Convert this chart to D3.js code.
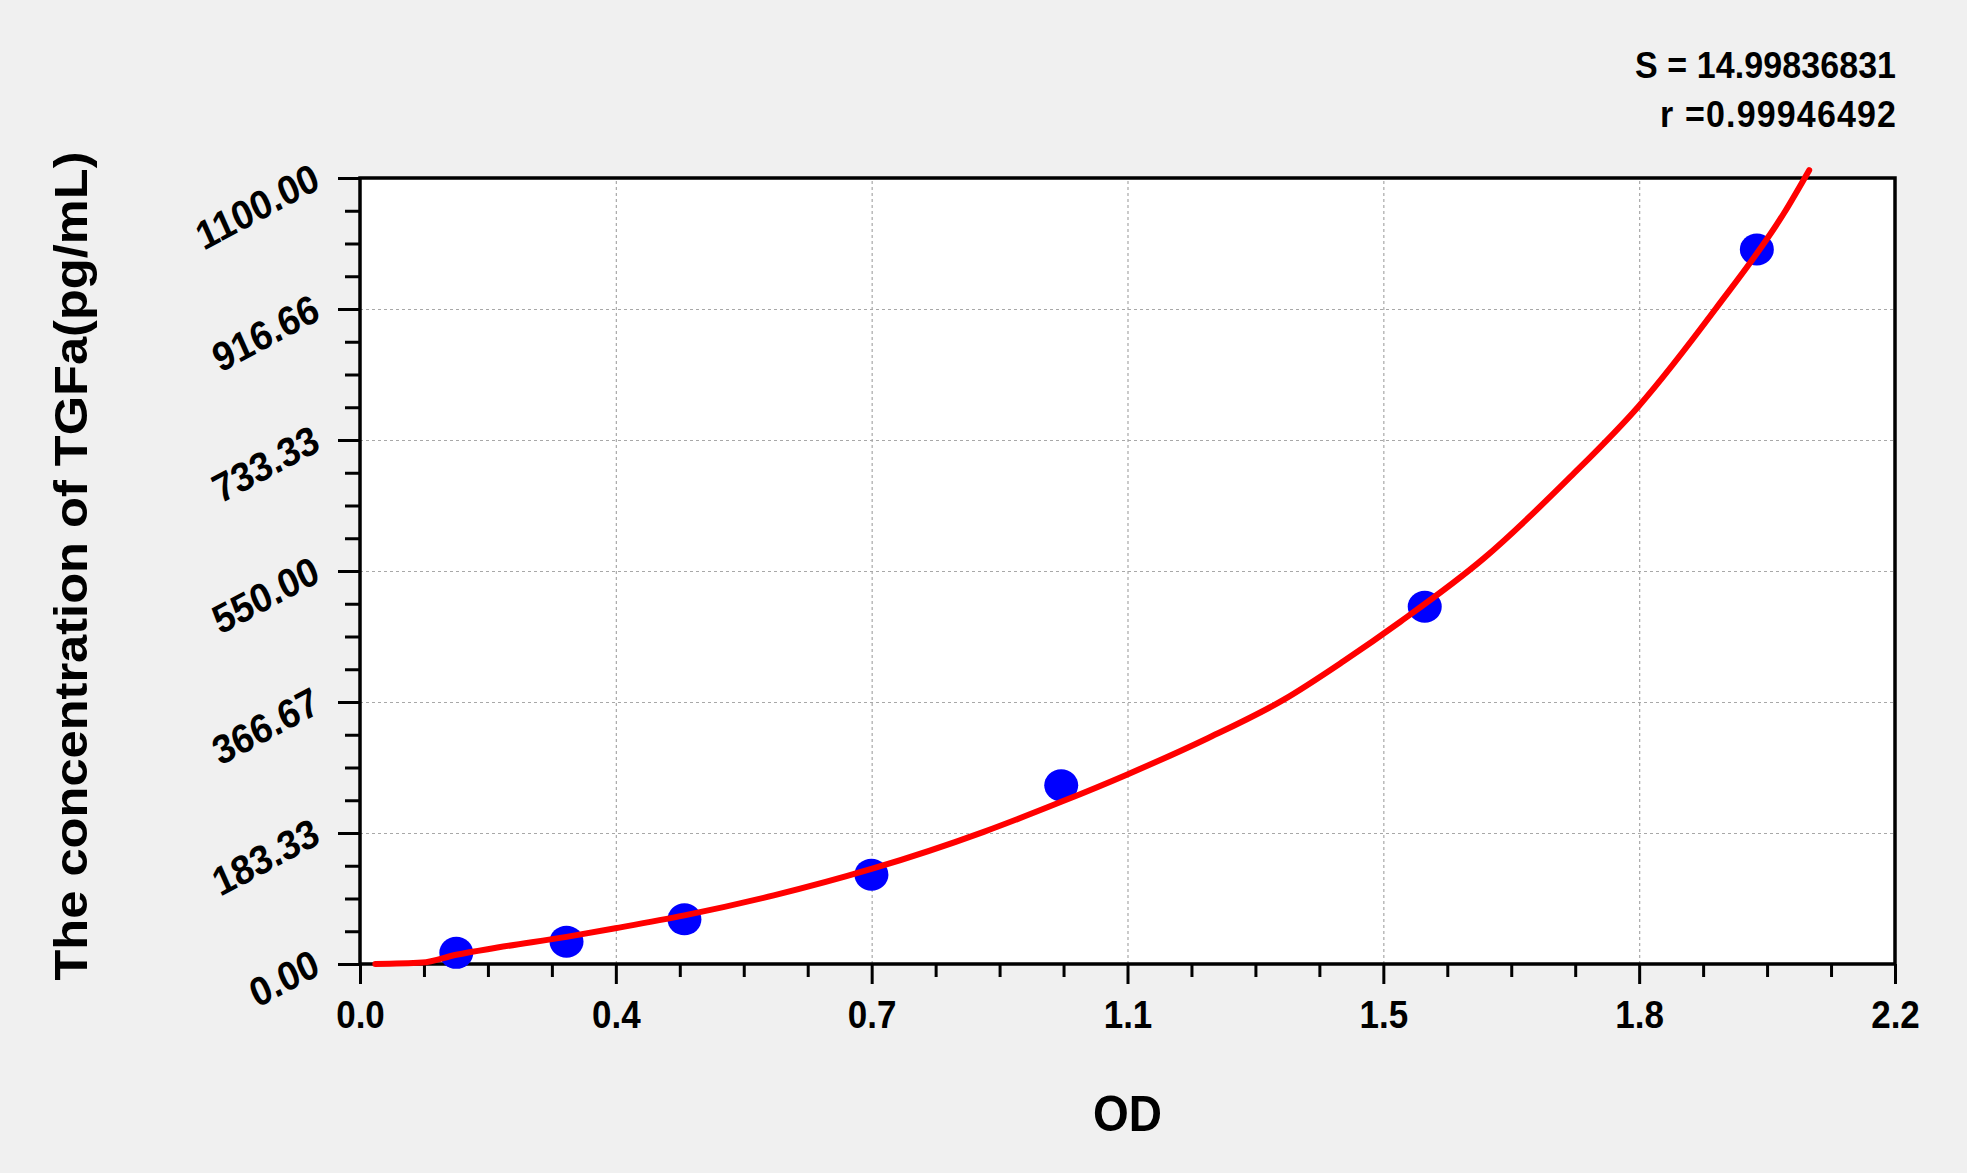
<!DOCTYPE html>
<html>
<head>
<meta charset="utf-8">
<script src="https://cdn.jsdelivr.net/npm/d3@7"></script>
<style>
  html, body { margin: 0; padding: 0; background: #f0f0f0; }
  svg { display: block; }
  text { font-family: Arial, "Liberation Sans", sans-serif; font-weight: bold; fill: #000; }
</style>
</head>
<body>
<div class="chart"></div>
<script>
// standards: OD vs concentration
var od_values   = [0.138, 0.296, 0.465, 0.733, 1.005, 1.526, 2.002];
var conc_values = [15.6, 31.25, 62.5, 125, 250, 500, 1000];

// fitted curve
var curve_od   = [0.022, 0.089, 0.138, 0.197, 0.296, 0.366, 0.465, 0.593, 0.733, 0.894,
                  1.005, 1.099, 1.215, 1.324, 1.41, 1.491, 1.611, 1.735, 1.832, 1.943,
                  2.041, 2.077];
var curve_conc = [0, 2, 13, 23, 38, 50, 68, 96, 133, 185,
                  227, 265, 316, 370, 424, 479, 568, 682, 780, 917,
                  1051, 1111];

var x_tick_values = [0, 0.36667, 0.73333, 1.1, 1.46667, 1.83333, 2.2];
var x_tick_labels = ["0.0", "0.4", "0.7", "1.1", "1.5", "1.8", "2.2"];
var y_tick_values = [0, 183.33, 366.67, 550, 733.33, 916.66, 1100];
var y_tick_labels = ["0.00", "183.33", "366.67", "550.00", "733.33", "916.66", "1100.00"];

var stats_labels = ["S = 14.99836831", "r =0.99946492"];
var stats_widths = [261, 236];
var x_title = "OD";
var y_title = "The concentration of TGFa(pg/mL)";

var width = 1967, height = 1173;
var margin = {top: 178, right: 72, bottom: 209, left: 360};
var inner_width = width - margin.left - margin.right;
var inner_height = height - margin.top - margin.bottom;
var stretch = "scale(1,1.1)";

var svg = d3.select(".chart").append("svg")
  .attr("width", width)
  .attr("height", height)
  .style("background-color", "#f0f0f0");

var g = svg.append("g")
  .attr("transform", "translate(" + margin.left + "," + margin.top + ")");

var x_scale = d3.scaleLinear().domain([0, 2.2]).range([0, inner_width]);
var y_scale = d3.scaleLinear().domain([0, 1100]).range([inner_height, 0]);

// minor ticks: 3 between each pair of majors
function minors(vals) {
  var out = [];
  for (var i = 0; i < vals.length - 1; i++) {
    for (var k = 1; k < 4; k++) out.push(vals[i] + (vals[i + 1] - vals[i]) * k / 4);
  }
  return out;
}

g.append("rect")
  .attr("width", inner_width)
  .attr("height", inner_height)
  .attr("fill", "#ffffff");

// grid
g.append("g")
  .attr("class", "grid")
  .attr("transform", "translate(0," + inner_height + ")")
  .call(d3.axisBottom(x_scale).tickValues(x_tick_values.slice(1, -1))
    .tickSize(-inner_height).tickFormat(""));
g.append("g")
  .attr("class", "grid")
  .call(d3.axisLeft(y_scale).tickValues(y_tick_values.slice(1, -1))
    .tickSize(-inner_width).tickFormat(""));
g.selectAll(".grid path").remove();
g.selectAll(".grid line")
  .attr("stroke", "#a8a8a8")
  .attr("stroke-width", 1.2)
  .attr("stroke-dasharray", "3,3");

// axes
var x_axis = g.append("g")
  .attr("class", "x_axis")
  .attr("transform", "translate(0," + inner_height + ")")
  .call(d3.axisBottom(x_scale).tickValues(x_tick_values).tickSizeInner(20).tickSizeOuter(0)
    .tickFormat(function (d, i) { return x_tick_labels[i]; }));
x_axis.selectAll("text")
  .attr("y", null).attr("dy", null)
  .attr("transform", "translate(0,64) " + stretch)
  .attr("text-anchor", "middle")
  .style("font-size", "35px");

var x_minor = g.append("g")
  .attr("transform", "translate(0," + inner_height + ")")
  .call(d3.axisBottom(x_scale).tickValues(minors(x_tick_values)).tickSizeInner(13).tickSizeOuter(0)
    .tickFormat(""));

var y_axis = g.append("g")
  .attr("class", "y_axis")
  .call(d3.axisLeft(y_scale).tickValues(y_tick_values).tickSizeInner(22).tickSizeOuter(0)
    .tickFormat(function (d, i) { return y_tick_labels[i]; }));
y_axis.selectAll("text")
  .attr("x", null).attr("dy", null)
  .attr("transform", "translate(-38,9) " + stretch + " rotate(-26)")
  .attr("text-anchor", "end")
  .style("font-size", "37px");

var y_minor = g.append("g")
  .call(d3.axisLeft(y_scale).tickValues(minors(y_tick_values)).tickSizeInner(15).tickSizeOuter(0)
    .tickFormat(""));

g.selectAll(".x_axis path, .y_axis path").remove();
x_minor.select("path").remove();
y_minor.select("path").remove();
g.selectAll(".tick line")
  .filter(function () { return !this.closest(".grid"); })
  .attr("stroke", "#000")
  .attr("stroke-width", 3);

// frame
g.append("rect")
  .attr("width", inner_width)
  .attr("height", inner_height)
  .attr("fill", "none")
  .attr("stroke", "#000")
  .attr("stroke-width", 3.5);

// points
var points = od_values.map(function (d, i) { return {od: d, conc: conc_values[i]}; });
g.selectAll("ellipse")
  .data(points)
  .enter()
  .append("ellipse")
    .attr("cx", function (d) { return x_scale(d.od); })
    .attr("cy", function (d) { return y_scale(d.conc); })
    .attr("rx", 17)
    .attr("ry", 16)
    .attr("fill", "#0000ff");

// fitted curve
var curve = curve_od.map(function (d, i) { return [d, curve_conc[i]]; });
var line = d3.line()
  .x(function (d) { return x_scale(d[0]); })
  .y(function (d) { return y_scale(d[1]); })
  .curve(d3.curveMonotoneX);
g.append("path")
  .datum(curve)
  .attr("d", line)
  .attr("fill", "none")
  .attr("stroke", "#ff0000")
  .attr("stroke-width", 6)
  .attr("stroke-linecap", "round");

// titles
svg.append("text")
  .attr("transform", "translate(" + (margin.left + inner_width / 2) + ",1131) " + stretch)
  .attr("text-anchor", "middle")
  .style("font-size", "46px")
  .text(x_title);

svg.append("text")
  .attr("transform", "translate(87,566) " + stretch + " rotate(-90)")
  .attr("text-anchor", "middle")
  .style("font-size", "46px")
  .text(y_title);

svg.selectAll(".stats")
  .data(stats_labels)
  .enter()
  .append("text")
    .attr("class", "stats")
    .attr("transform", function (d, i) {
      return "translate(" + (margin.left + inner_width + 1) + "," + (78 + i * 49) + ") " + stretch;
    })
    .attr("text-anchor", "end")
    .attr("textLength", function (d, i) { return stats_widths[i]; })
    .attr("lengthAdjust", "spacing")
    .style("font-size", "34px")
    .text(function (d) { return d; });
</script>
</body>
</html>
